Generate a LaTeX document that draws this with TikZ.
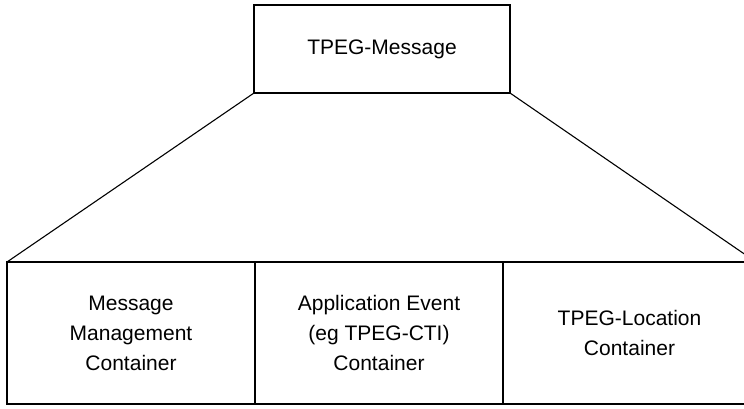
\documentclass[tikz,border=0pt]{standalone}
\usepackage{fontspec}
\setmainfont{Liberation Sans}
\begin{document}
\begin{tikzpicture}[x=1pt,y=-1pt,
  every node/.style={font=\fontsize{21}{30}\selectfont},
  box/.style={draw,line width=1.1pt,rectangle,outer sep=0pt,inner sep=0pt,align=center},
  link/.style={line width=1.1pt}]
  \clip (0,0) rectangle (744,409);
  % top message box
  \node[box,minimum width=256pt,minimum height=88pt] (msg) at (382,49) {TPEG-Message};
  % three containers side by side
  \node[box,minimum width=248pt,minimum height=142pt] (mmc) at (131,333)
    {Message\\Management\\Container};
  \node[box,minimum width=248pt,minimum height=142pt] (aec) at (379,333)
    {Application Event\\(eg TPEG-CTI)\\Container};
  \node[box,minimum width=253pt,minimum height=142pt] (loc) at (629.5,333)
    {TPEG-Location\\Container};
  % fan-out from the message box to the container row
  \draw[link] (msg.south west) -- (mmc.north west);
  \draw[link] (msg.south east) -- (loc.north east);
\end{tikzpicture}
\end{document}
